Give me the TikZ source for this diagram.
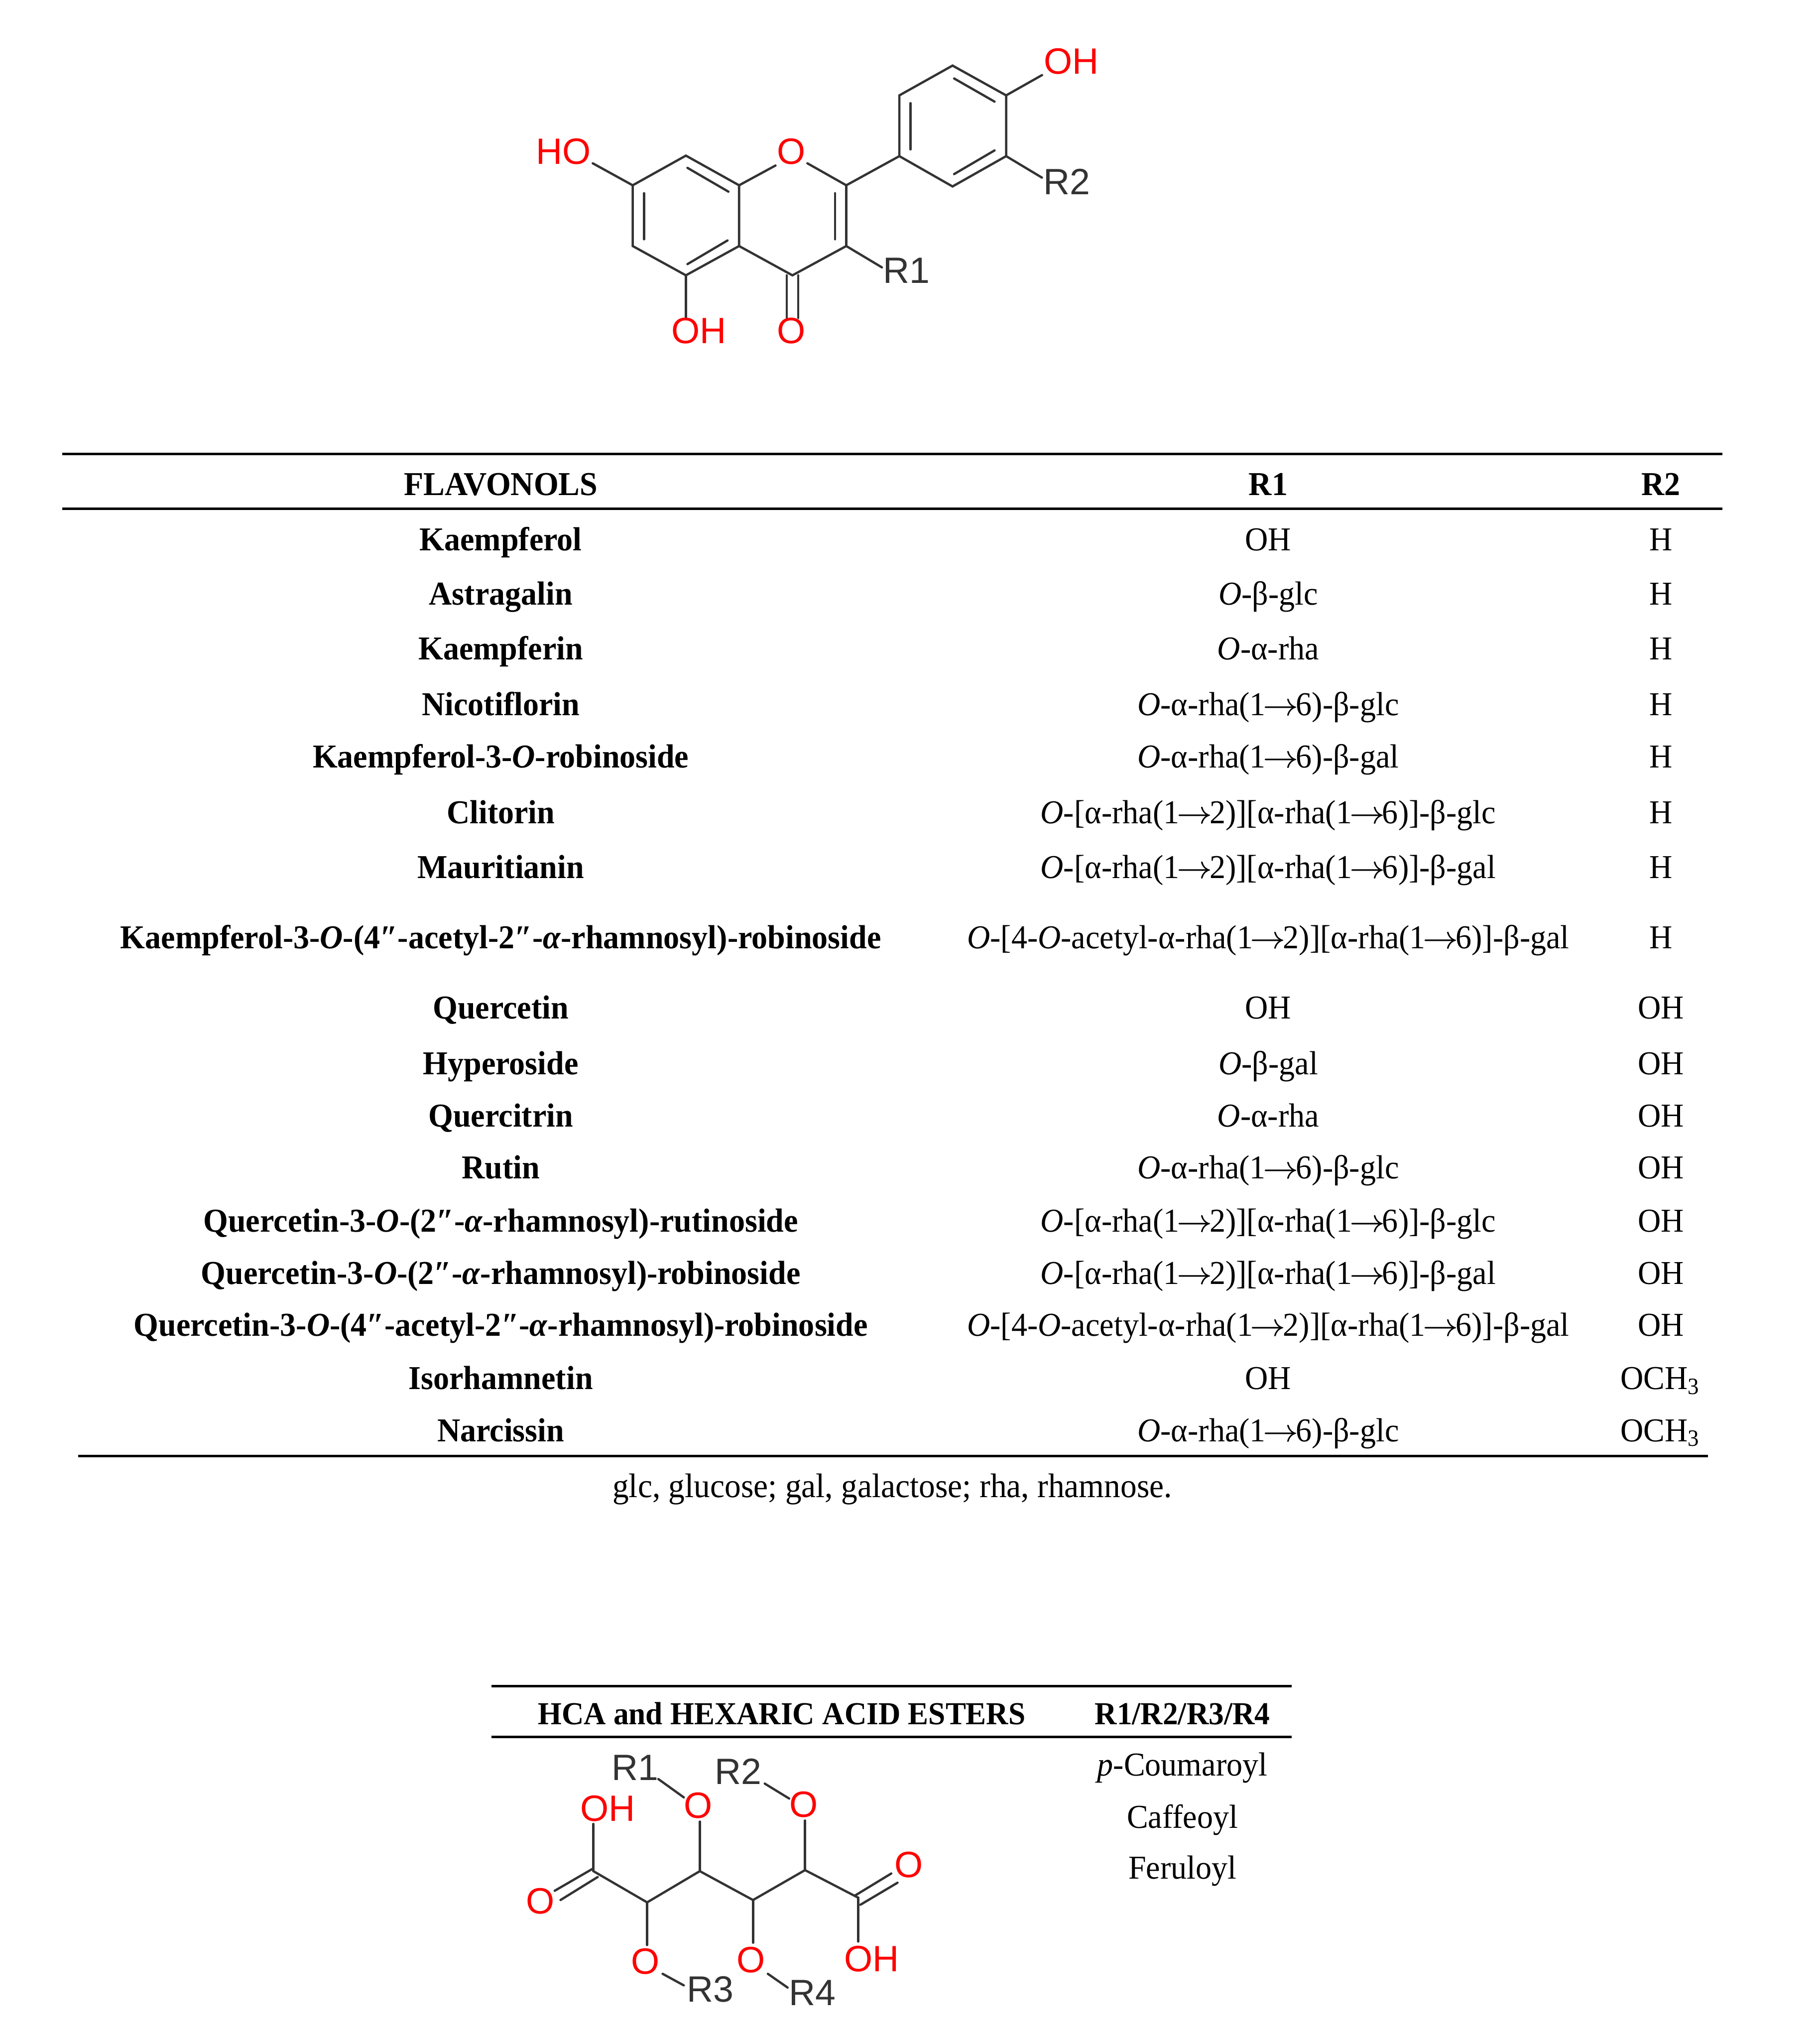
\documentclass[tikz,border=0pt]{standalone}
\usepackage{fontspec}
\setmainfont{Liberation Serif}[FakeStretch=0.955]
\setsansfont{Liberation Sans}
\tikzset{
  bond/.style={line width=0.5pt, draw=black!80, line cap=round},
  rule/.style={line width=0.55pt, draw=black},
  atomred/.style={text=red, font=\sffamily\fontsize{8}{8}\selectfont, inner sep=0pt},
  atomgrey/.style={text=black!80, font=\sffamily\fontsize{8}{8}\selectfont, inner sep=0pt},
  cell/.style={anchor=base, yshift=-0.08cm, inner sep=0pt, font=\fontsize{7.3}{8}\selectfont},
  namecell/.style={cell, font=\fontsize{7.3}{8}\selectfont\bfseries},
  hexhead/.style={cell, font=\fontsize{7}{8}\selectfont\bfseries},
  footcell/.style={cell, font=\fontsize{7.45}{8}\selectfont},
}
\newcommand{\alphaIt}{\textit{α}}
\newcommand{\Och}{\textit{O}}
\newcommand{\yields}{$\mkern-1.5mu\rightarrow\mkern-1.5mu$}
\newcommand{\sugA}{\Och-α-rha(1\yields6)-β-glc}
\newcommand{\sugB}{\Och-α-rha(1\yields6)-β-gal}
\newcommand{\sugC}{\Och-[α-rha(1\yields2)][α-rha(1\yields6)]-β-glc}
\newcommand{\sugD}{\Och-[α-rha(1\yields2)][α-rha(1\yields6)]-β-gal}
\newcommand{\sugE}{\Och-[4-\Och-acetyl-α-rha(1\yields2)][α-rha(1\yields6)]-β-gal}
\newcommand{\methoxy}{OCH\textsubscript{3}}
\begin{document}
\begin{tikzpicture}[x=0.01cm, y=-0.01cm]
    \useasboundingbox (0,0) rectangle (1399,1568);

    % flavonol skeleton, coordinates to be reused
    \coordinate (C7) at (486.4,142.4);
    \coordinate (C8) at (527.3,119.6);
    \coordinate (C8a) at (568.2,142.4);
    \coordinate (C4a) at (568.2,189.1);
    \coordinate (C6) at (486.4,189.1);
    \coordinate (C5) at (527.3,211.6);
    \coordinate (C2) at (650.6,142.4);
    \coordinate (C3) at (650.6,189.1);
    \coordinate (C4) at (609.2,211.6);
    \coordinate (Ca) at (691.4,120);
    \coordinate (Cb) at (691.4,73.3);
    \coordinate (Cc) at (732.3,50.4);
    \coordinate (Cd) at (773.5,73.3);
    \coordinate (Ce) at (773.5,120);
    \coordinate (Cf) at (732.3,143.3);

    % draw flavonol
    \draw [bond] (C7) -- (C8) -- (C8a) -- (C4a) -- (C5) -- (C6) -- cycle;
    \draw [bond] (C4a) -- (C4) -- (C3) -- (C2) -- (Ca) -- (Cb) -- (Cc) -- (Cd) -- (Ce) -- (Cf) -- (Ca);
    \draw [bond] (495.1,148.5) -- (495.1,183.9);
    \draw [bond] (528.5,129) -- (560,147.3);
    \draw [bond] (559.3,184.8) -- (528.5,203);
    \draw [bond] (642,148.5) -- (642,183.9);
    \draw [bond] (700,79.3) -- (700,114.8);
    \draw [bond] (733.5,60.3) -- (764.6,78.1);
    \draw [bond] (764.6,115.6) -- (733.5,133.8);
    \draw [bond] (C8a) -- (596.2,127.2);
    \draw [bond] (620.7,125.5) -- (C2);
    \draw [bond] (C7) -- (455.7,125.5);
    \draw [bond] (C5) -- (527.3,244.4);
    \draw [bond] (604.8,211.6) -- (604.8,244.4);
    \draw [bond] (613.7,211.6) -- (613.7,244.4);
    \draw [bond] (C3) -- (678,205.5);
    \draw [bond] (Cd) -- (801.1,57.7);
    \draw [bond] (Ce) -- (801,136.5);

    % add labels
    \node (ho7) [atomred] at (433.3,116.5) {HO};
    \node (o1) [atomred] at (608.4,116.5) {O};
    \node (oh5) [atomred] at (537.2,254.3) {OH};
    \node (o4) [atomred] at (608.4,254.3) {O};
    \node (oh4b) [atomred] at (823.6,47.3) {OH};
    \node (labelRa) [atomgrey] at (697,208.1) {R1};
    \node (labelRb) [atomgrey] at (820,139.8) {R2};

    % flavonol table
    \draw [rule] (48,349) -- (1324,349);
    \draw [rule] (48,391) -- (1324,391);
    \draw [rule] (60,1119) -- (1313,1119);
    \node (head1) [namecell] at (385,372.5) {FLAVONOLS};
    \node (head2) [namecell] at (975,372.5) {R1};
    \node (head3) [namecell] at (1277,372.5) {R2};

    \node (name1) [namecell] at (385,415) {Kaempferol};
    \node (rone1) [cell] at (975,415) {OH};
    \node (rtwo1) [cell] at (1277,415) {H};
    \node (name2) [namecell] at (385,457) {Astragalin};
    \node (rone2) [cell] at (975,457) {\Och-β-glc};
    \node (rtwo2) [cell] at (1277,457) {H};
    \node (name3) [namecell] at (385,499) {Kaempferin};
    \node (rone3) [cell] at (975,499) {\Och-α-rha};
    \node (rtwo3) [cell] at (1277,499) {H};
    \node (name4) [namecell] at (385,542) {Nicotiflorin};
    \node (rone4) [cell] at (975,542) {\sugA};
    \node (rtwo4) [cell] at (1277,542) {H};
    \node (name5) [namecell] at (385,582) {Kaempferol-3-\Och-robinoside};
    \node (rone5) [cell] at (975,582) {\sugB};
    \node (rtwo5) [cell] at (1277,582) {H};
    \node (name6) [namecell] at (385,625) {Clitorin};
    \node (rone6) [cell] at (975,625) {\sugC};
    \node (rtwo6) [cell] at (1277,625) {H};
    \node (name7) [namecell] at (385,667) {Mauritianin};
    \node (rone7) [cell] at (975,667) {\sugD};
    \node (rtwo7) [cell] at (1277,667) {H};
    \node (name8) [namecell] at (385,721) {Kaempferol-3-\Och-(4″-acetyl-2″-\alphaIt-rhamnosyl)-robinoside};
    \node (rone8) [cell] at (975,721) {\sugE};
    \node (rtwo8) [cell] at (1277,721) {H};
    \node (name9) [namecell] at (385,775) {Quercetin};
    \node (rone9) [cell] at (975,775) {OH};
    \node (rtwo9) [cell] at (1277,775) {OH};
    \node (name10) [namecell] at (385,818) {Hyperoside};
    \node (rone10) [cell] at (975,818) {\Och-β-gal};
    \node (rtwo10) [cell] at (1277,818) {OH};
    \node (name11) [namecell] at (385,858) {Quercitrin};
    \node (rone11) [cell] at (975,858) {\Och-α-rha};
    \node (rtwo11) [cell] at (1277,858) {OH};
    \node (name12) [namecell] at (385,898) {Rutin};
    \node (rone12) [cell] at (975,898) {\sugA};
    \node (rtwo12) [cell] at (1277,898) {OH};
    \node (name13) [namecell] at (385,939) {Quercetin-3-\Och-(2″-\alphaIt-rhamnosyl)-rutinoside};
    \node (rone13) [cell] at (975,939) {\sugC};
    \node (rtwo13) [cell] at (1277,939) {OH};
    \node (name14) [namecell] at (385,979) {Quercetin-3-\Och-(2″-\alphaIt-rhamnosyl)-robinoside};
    \node (rone14) [cell] at (975,979) {\sugD};
    \node (rtwo14) [cell] at (1277,979) {OH};
    \node (name15) [namecell] at (385,1019) {Quercetin-3-\Och-(4″-acetyl-2″-\alphaIt-rhamnosyl)-robinoside};
    \node (rone15) [cell] at (975,1019) {\sugE};
    \node (rtwo15) [cell] at (1277,1019) {OH};
    \node (name16) [namecell] at (385,1060) {Isorhamnetin};
    \node (rone16) [cell] at (975,1060) {OH};
    \node (rtwo16) [cell] at (1277,1060) {\methoxy};
    \node (name17) [namecell] at (385,1100) {Narcissin};
    \node (rone17) [cell] at (975,1100) {\sugA};
    \node (rtwo17) [cell] at (1277,1100) {\methoxy};
    \node (foot) [footcell] at (686,1143) {glc, glucose; gal, galactose; rha, rhamnose.};

    % hexaric acid table
    \draw [rule] (378,1296) -- (993,1296);
    \draw [rule] (378,1335) -- (993,1335);
    \node (headHca) [hexhead] at (601,1317.5) {HCA and HEXARIC ACID ESTERS};
    \node (headAcyl) [hexhead] at (909,1317.5) {R1/R2/R3/R4};
    \node (acyl1) [cell] at (909,1357) {\textit{p}-Coumaroyl};
    \node (acyl2) [cell] at (909,1397) {Caffeoyl};
    \node (acyl3) [cell] at (909,1436) {Feruloyl};

    % hexaric acid chain
    \coordinate (H1) at (456.2,1438.2);
    \coordinate (H2) at (497.5,1462.2);
    \coordinate (H3) at (538,1438.2);
    \coordinate (H4) at (578.9,1460.4);
    \coordinate (H5) at (618.9,1437.4);
    \coordinate (H6) at (659.8,1458.6);
    \draw [bond] (H1) -- (H2) -- (H3) -- (H4) -- (H5) -- (H6);
    \draw [bond] (H1) -- (456.2,1401.9);
    \draw [bond] (H3) -- (538,1400.1);
    \draw [bond] (H5) -- (618.9,1399.3);
    \draw [bond] (H2) -- (497.5,1495);
    \draw [bond] (H4) -- (578.9,1493.2);
    \draw [bond] (H6) -- (659.8,1492.3);
    \draw [bond] (455.4,1436.5) -- (426.4,1453.3);
    \draw [bond] (459.5,1442.7) -- (430.9,1460.4);
    \draw [bond] (657.4,1456.9) -- (685.2,1440);
    \draw [bond] (661.5,1464) -- (690,1447.1);
    \draw [bond] (506.1,1367.4) -- (525.7,1381.5);
    \draw [bond] (587.9,1370.9) -- (606.7,1382.4);
    \draw [bond] (509.4,1517.1) -- (525.7,1526);
    \draw [bond] (590.3,1517.1) -- (605.5,1527.7);

    \node (hexOHa) [atomred] at (467.3,1389.9) {OH};
    \node (hexOa) [atomred] at (536.8,1387.7) {O};
    \node (hexOb) [atomred] at (617.7,1386.9) {O};
    \node (hexOc) [atomred] at (415.4,1461.3) {O};
    \node (hexOd) [atomred] at (698.7,1433.3) {O};
    \node (hexOe) [atomred] at (496.3,1507.7) {O};
    \node (hexOf) [atomred] at (577.3,1506.5) {O};
    \node (hexOHb) [atomred] at (670,1505.6) {OH};
    \node (hexRa) [atomgrey] at (488.1,1358.5) {R1};
    \node (hexRb) [atomgrey] at (567.4,1361.7) {R2};
    \node (hexRc) [atomgrey] at (546.2,1529) {R3};
    \node (hexRd) [atomgrey] at (624.7,1531.8) {R4};
\end{tikzpicture}
\end{document}
